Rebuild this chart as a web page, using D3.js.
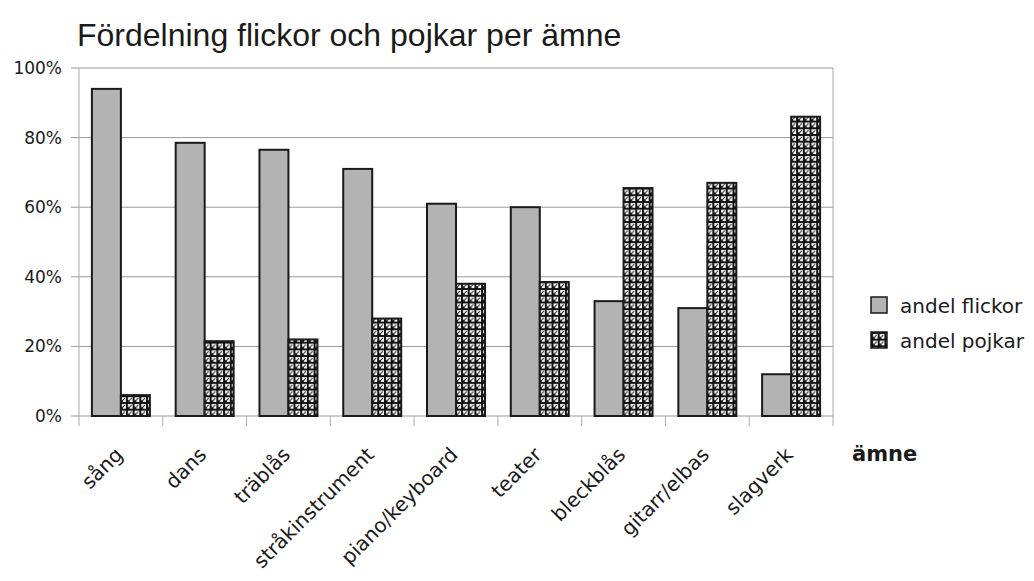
<!DOCTYPE html>
<html>
<head>
<meta charset="utf-8">
<script src="https://cdn.jsdelivr.net/npm/d3@7"></script>
<style>
    body { margin: 0; background: #fff; }
    text { font-family: "DejaVu Sans", sans-serif; fill: #1a1a1a; }
</style>
</head>
<body>
<div id="graph"></div>
<script>
var categories = [ 'sång', 'dans', 'träblås', 'stråkinstrument', 'piano/keyboard',
    'teater', 'bleckblås', 'gitarr/elbas', 'slagverk' ];
var girls = [ 94, 78.5, 76.5, 71, 61, 60, 33, 31, 12 ];
var boys = [ 6, 21.5, 22, 28, 38, 38.5, 65.5, 67, 86 ];
var seriesNames = [ 'andel flickor', 'andel pojkar' ];
var yTicks = [ 0, 20, 40, 60, 80, 100 ];

drawChart();

function drawChart() {
    var width = 1034;
    var height = 581;
    var pLeft = 79, pRight = 833, pTop = 68, pBottom = 416;

    var svg = d3.select( '#graph' ).append( 'svg' )
        .attr( 'width', width )
        .attr( 'height', height );

    // trellis fill for the boys' bars
    var pat = svg.append( 'defs' ).append( 'pattern' )
        .attr( 'id', 'trellis' )
        .attr( 'patternUnits', 'userSpaceOnUse' )
        .attr( 'width', 6.7 )
        .attr( 'height', 6.7 );
    pat.append( 'rect' ).attr( 'width', 6.7 ).attr( 'height', 6.7 ).attr( 'fill', '#111' );
    pat.append( 'rect' ).attr( 'x', 2 ).attr( 'y', 2 )
        .attr( 'width', 4.7 ).attr( 'height', 4.7 ).attr( 'fill', '#fff' );
    pat.append( 'path' ).attr( 'd', 'M2,6.7 L2,4.6 L4.1,6.7 Z' ).attr( 'fill', '#111' );
    pat.append( 'line' )
        .attr( 'x1', 2 ).attr( 'y1', 6.7 ).attr( 'x2', 5.6 ).attr( 'y2', 3.1 )
        .attr( 'stroke', '#111' ).attr( 'stroke-width', 1 );

    var x = d3.scaleBand().domain( categories ).range( [ pLeft, pRight ] );
    var inner = d3.scaleBand().domain( [ 0, 1 ] ).range( [ 0, x.bandwidth() ] ).paddingOuter( 0.445 );
    var y = d3.scaleLinear().domain( [ 0, 100 ] ).range( [ pBottom, pTop ] );

    svg.append( 'text' )
        .attr( 'x', 77 )
        .attr( 'y', 46 )
        .style( 'font-family', '"Liberation Sans", Arial, sans-serif' )
        .style( 'font-size', '32px' )
        .text( 'Fördelning flickor och pojkar per ämne' );

    // gridlines and y ticks
    svg.selectAll( 'line.grid' )
        .data( yTicks )
        .enter().append( 'line' )
        .attr( 'class', 'grid' )
        .attr( 'x1', pLeft - 8 )
        .attr( 'x2', pRight )
        .attr( 'y1', function( d ) { return y( d ); })
        .attr( 'y2', function( d ) { return y( d ); })
        .attr( 'stroke', '#999' )
        .attr( 'stroke-width', 1 );

    svg.selectAll( 'text.ylab' )
        .data( yTicks )
        .enter().append( 'text' )
        .attr( 'class', 'ylab' )
        .attr( 'x', 62 )
        .attr( 'y', function( d ) { return y( d ) + 6; })
        .attr( 'text-anchor', 'end' )
        .style( 'font-size', '17px' )
        .text( function( d ) { return d + '%'; });

    svg.append( 'line' )
        .attr( 'x1', pLeft ).attr( 'x2', pLeft )
        .attr( 'y1', pTop ).attr( 'y2', pBottom + 10 )
        .attr( 'stroke', '#aaa' );
    svg.append( 'line' )
        .attr( 'x1', pRight ).attr( 'x2', pRight )
        .attr( 'y1', pTop ).attr( 'y2', pBottom + 10 )
        .attr( 'stroke', '#aaa' );

    // x ticks at category boundaries
    svg.selectAll( 'line.xtick' )
        .data( categories.slice( 1 ) )
        .enter().append( 'line' )
        .attr( 'class', 'xtick' )
        .attr( 'x1', function( d ) { return x( d ); })
        .attr( 'x2', function( d ) { return x( d ); })
        .attr( 'y1', pBottom )
        .attr( 'y2', pBottom + 10 )
        .attr( 'stroke', '#aaa' );

    var groups = svg.selectAll( 'g.cat' )
        .data( categories )
        .enter().append( 'g' )
        .attr( 'class', 'cat' )
        .attr( 'transform', function( d ) { return 'translate(' + x( d ) + ',0)'; });

    groups.append( 'rect' )
        .attr( 'x', inner( 0 ) )
        .attr( 'y', function( d, i ) { return y( girls[ i ] ); })
        .attr( 'width', inner.bandwidth() )
        .attr( 'height', function( d, i ) { return pBottom - y( girls[ i ] ); })
        .attr( 'fill', '#b3b3b3' )
        .attr( 'stroke', '#1a1a1a' )
        .attr( 'stroke-width', 2 );

    groups.append( 'rect' )
        .attr( 'x', inner( 1 ) )
        .attr( 'y', function( d, i ) { return y( boys[ i ] ); })
        .attr( 'width', inner.bandwidth() )
        .attr( 'height', function( d, i ) { return pBottom - y( boys[ i ] ); })
        .attr( 'fill', 'url(#trellis)' )
        .attr( 'stroke', '#1a1a1a' )
        .attr( 'stroke-width', 2 );

    // rotated category labels
    svg.selectAll( 'text.xlab' )
        .data( categories )
        .enter().append( 'text' )
        .attr( 'class', 'xlab' )
        .attr( 'text-anchor', 'end' )
        .attr( 'transform', function( d ) {
            return 'translate(' + ( x( d ) + x.bandwidth() / 2 + 3 ) + ',' + ( pBottom + 40 ) + ') rotate(-45)';
        })
        .style( 'font-size', '20px' )
        .text( function( d ) { return d; });

    svg.append( 'text' )
        .attr( 'x', 852 )
        .attr( 'y', 461 )
        .style( 'font-size', '21px' )
        .style( 'font-weight', 'bold' )
        .text( 'ämne' );

    // legend
    var legend = svg.selectAll( 'g.legend' )
        .data( seriesNames )
        .enter().append( 'g' )
        .attr( 'class', 'legend' )
        .attr( 'transform', function( d, i ) { return 'translate(871,' + ( 297 + i * 35 ) + ')'; });

    legend.append( 'rect' )
        .attr( 'width', 16 )
        .attr( 'height', 16 )
        .attr( 'fill', function( d, i ) { return i === 0 ? '#b3b3b3' : 'url(#trellis)'; })
        .attr( 'stroke', '#1a1a1a' )
        .attr( 'stroke-width', 1.5 );

    legend.append( 'text' )
        .attr( 'x', 29 )
        .attr( 'y', 16 )
        .style( 'font-size', '20px' )
        .text( function( d ) { return d; });
}
</script>
</body>
</html>
